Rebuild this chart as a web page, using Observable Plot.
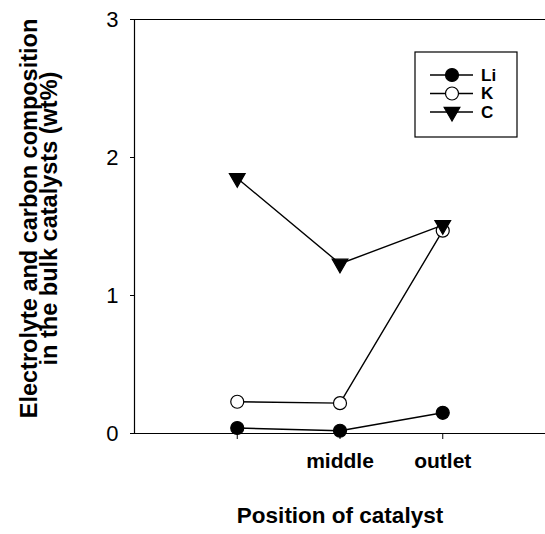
<!DOCTYPE html>
<html>
<head>
<meta charset="utf-8">
<script src="https://cdn.jsdelivr.net/npm/d3@7"></script>
<script src="https://cdn.jsdelivr.net/npm/@observablehq/plot@0.6"></script>
<style>
  html, body { margin: 0; padding: 0; background: #fff; }
  #wrap { position: relative; width: 545px; height: 534px; font-family: "Liberation Sans", Arial, sans-serif; }
  #legend { position: absolute; left: 0; top: 0; }
</style>
</head>
<body>
<div id="wrap"><div id="chart"></div><svg id="legend" width="545" height="534"></svg></div>
<script>
// Data
const positions = [1, 2, 3];
const tickLabels = ["", "middle", "outlet"];
const seriesNames = ["Li", "K", "C"];
const li = [0.04, 0.02, 0.15];
const k = [0.23, 0.22, 1.47];
const c = [1.85, 1.23, 1.51];
const yTicks = [0, 1, 2, 3];
const yTitle = "Electrolyte and carbon composition\nin the bulk catalysts (wt%)";
const xTitle = "Position of catalyst";

const seriesValues = [li, k, c];
const styles = {
  Li: {symbol: "circle", fill: "black", rotate: 0, r: 6.5},
  K: {symbol: "circle", fill: "white", rotate: 0, r: 6.5},
  C: {symbol: "triangle2", fill: "black", rotate: 180, r: 7.5}
};
const rows = [];
seriesNames.forEach((s, i) => positions.forEach((p, j) => rows.push({series: s, pos: p, value: seriesValues[i][j]})));

const font = "Liberation Sans, Arial, sans-serif";
const marks = [
  Plot.ruleY([0, 3], {stroke: "black", strokeWidth: 1.2}),
  Plot.ruleX([0], {stroke: "black", strokeWidth: 1.2}),
  Plot.axisY({ticks: yTicks, tickSize: 4, tickPadding: 12, fontSize: 22, label: null, tickFormat: d => d3.format("d")(d)}),
  Plot.axisX({ticks: positions, tickSize: 6, tickPadding: 14, fontSize: 21, fontWeight: "bold", label: null, tickFormat: d => tickLabels[positions.indexOf(d)]}),
  Plot.text([yTitle], {frameAnchor: "left", textAnchor: "middle", rotate: -90, dx: -94, dy: -8, fontSize: 23.5, fontWeight: "bold", lineAnchor: "middle", lineHeight: 0.84}),
  Plot.text([xTitle], {frameAnchor: "bottom", dy: 82, fontSize: 22.5, fontWeight: "bold", lineAnchor: "middle"})
];
for (const s of seriesNames) {
  const data = rows.filter(d => d.series === s);
  marks.push(Plot.line(data, {x: "pos", y: "value", stroke: "black", strokeWidth: 1.4}));
}
for (const s of seriesNames) {
  const data = rows.filter(d => d.series === s);
  const st = styles[s];
  marks.push(Plot.dot(data, {x: "pos", y: "value", symbol: st.symbol, fill: st.fill, stroke: "black", strokeWidth: 1.2, r: st.r, rotate: st.rotate}));
}

const chart = Plot.plot({
  width: 545,
  height: 534,
  marginLeft: 134,
  marginRight: 0,
  marginTop: 19,
  marginBottom: 101,
  style: {fontFamily: font, color: "black", background: "white"},
  x: {domain: [0, 4]},
  y: {domain: [0, 3]},
  marks
});
document.getElementById("chart").appendChild(chart);

// Legend overlay
const lg = d3.select("#legend");
const box = {x: 415, y: 52, w: 102, h: 85};
lg.append("rect").attr("x", box.x).attr("y", box.y).attr("width", box.w).attr("height", box.h)
  .attr("fill", "white").attr("stroke", "black").attr("stroke-width", 1.2);
seriesNames.forEach((s, i) => {
  const cy = box.y + 23 + i * 18.5;
  const st = styles[s];
  lg.append("line").attr("x1", box.x + 15).attr("x2", box.x + 58).attr("y1", cy).attr("y2", cy)
    .attr("stroke", "black").attr("stroke-width", 1.4);
  const sym = st.symbol === "circle" ? d3.symbolCircle : d3.symbolTriangle2;
  const size = Math.PI * st.r * st.r;
  lg.append("path").attr("d", d3.symbol(sym, size)())
    .attr("transform", `translate(${box.x + 37},${cy}) rotate(${st.rotate})`)
    .attr("fill", st.fill).attr("stroke", "black").attr("stroke-width", 1.2);
  lg.append("text").attr("x", box.x + 66).attr("y", cy).attr("dy", "0.35em")
    .attr("font-family", font).attr("font-size", 17).attr("font-weight", "bold").text(s);
});
</script>
</body>
</html>
